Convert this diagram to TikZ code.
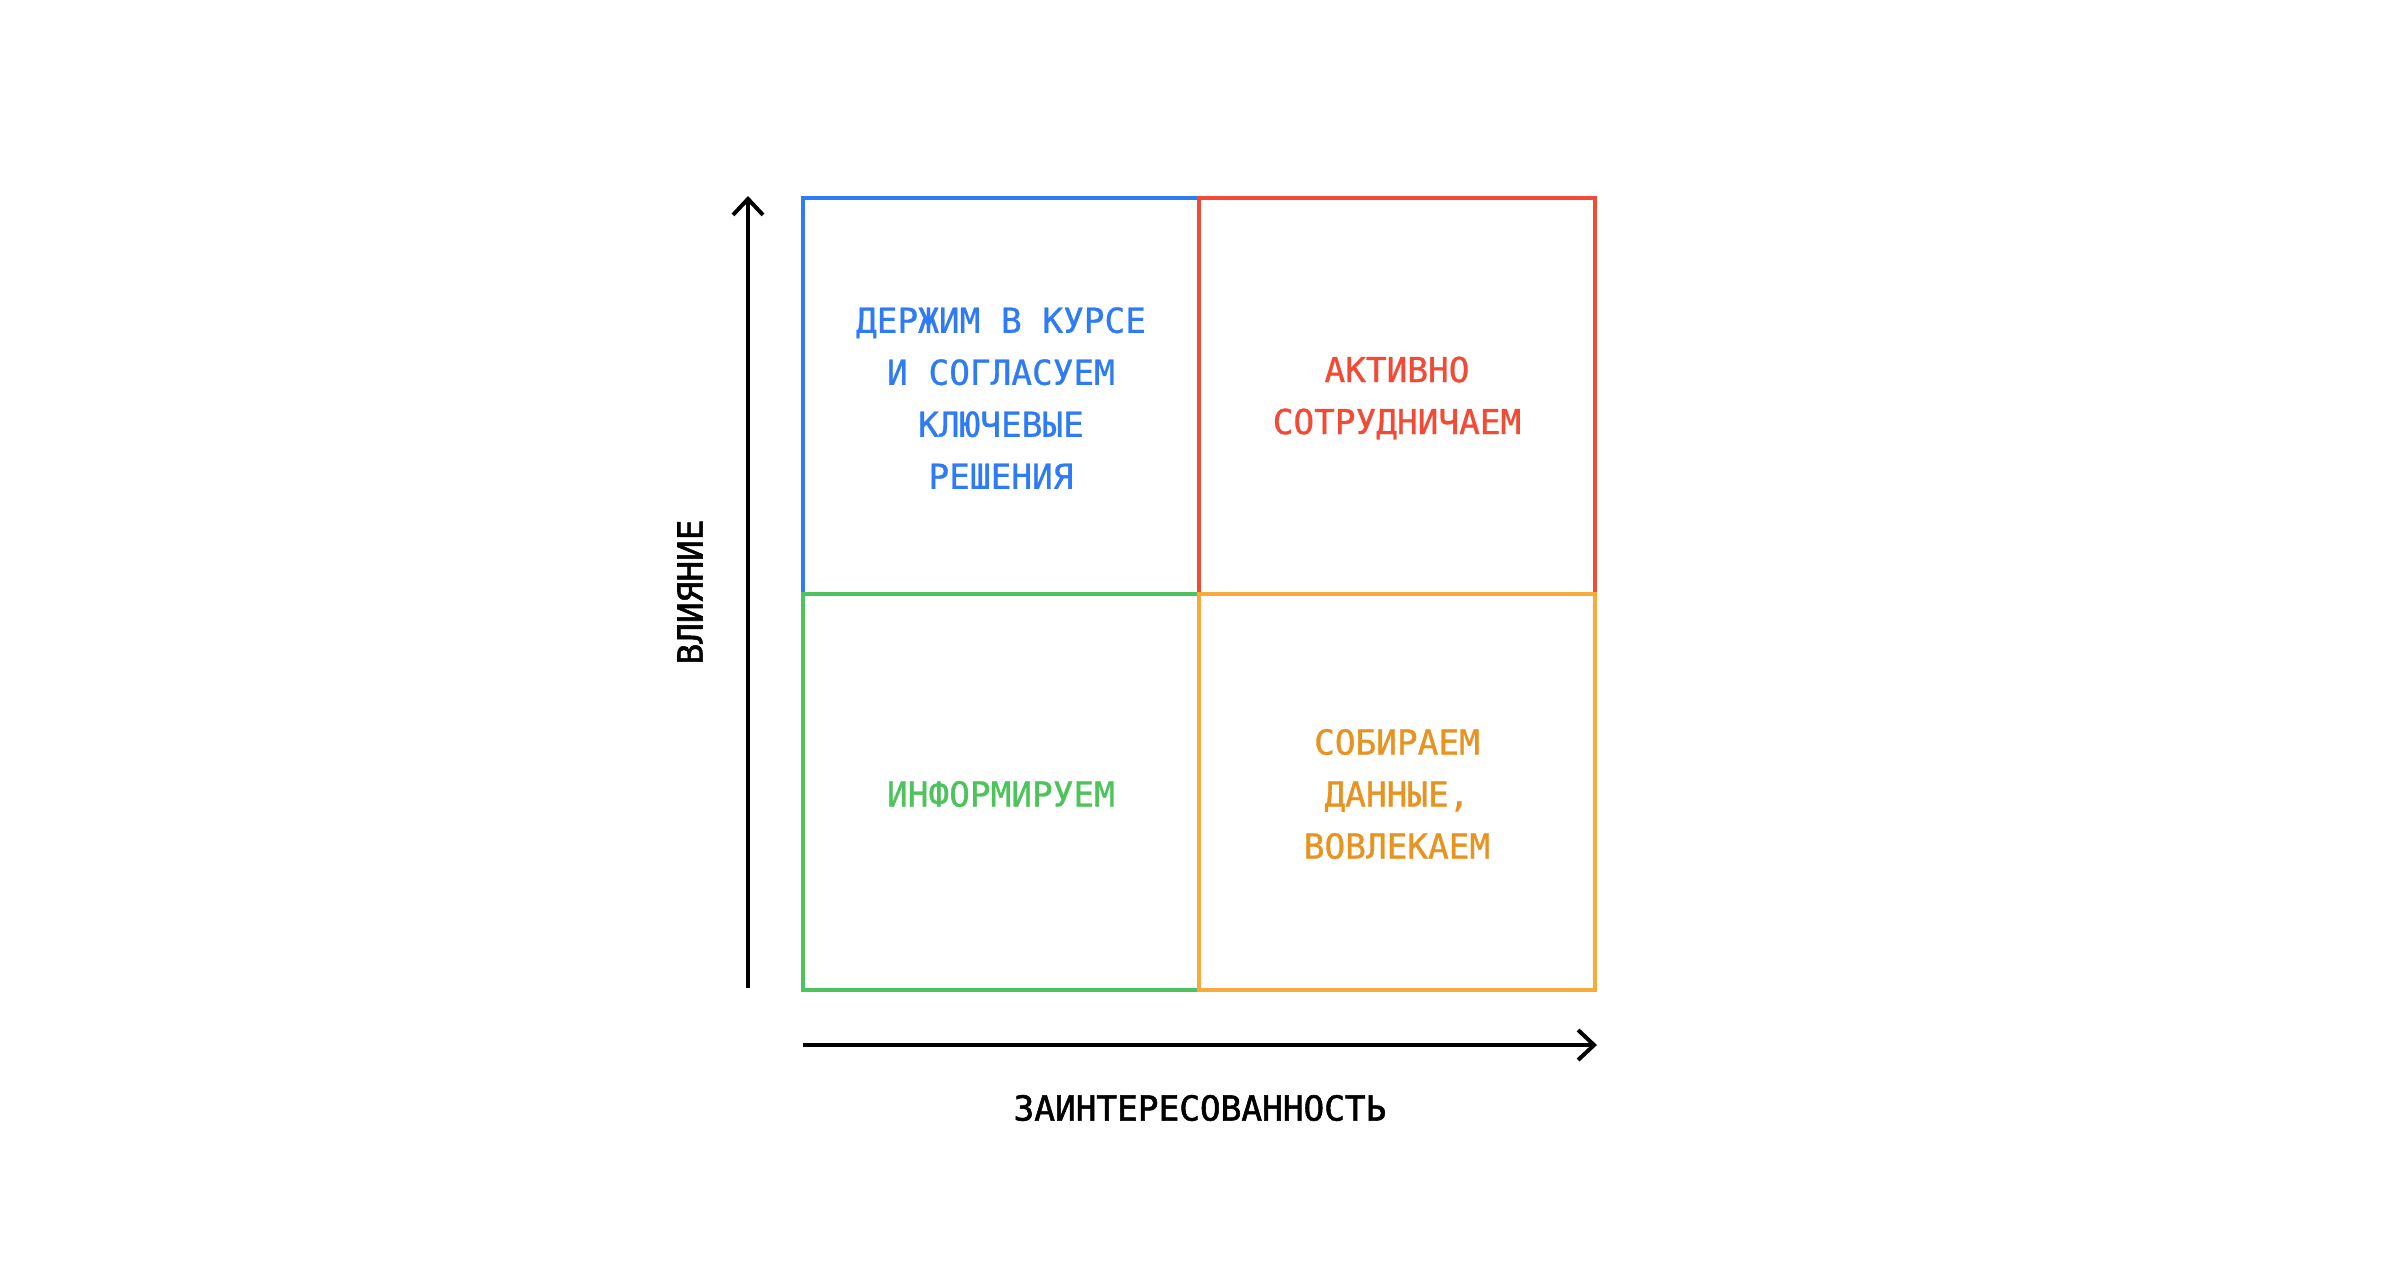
\documentclass[tikz,border=0pt]{standalone}
\usepackage{fontspec}
\newfontfamily\qfont[FakeBold=0.9]{DejaVu Sans Mono}
\newfontfamily\afont[FakeBold=1.6]{DejaVu Sans Mono}
\usetikzlibrary{arrows.meta}
\definecolor{cblue}{HTML}{2F7BF6}
\definecolor{cred}{HTML}{F24A35}
\definecolor{cgreen}{HTML}{4DC35B}
\definecolor{corange}{HTML}{F8AA3A}
\definecolor{corangetext}{HTML}{E8921F}
\tikzset{
  quad/.style={draw, line width=2pt, minimum width=198pt, minimum height=198pt, inner sep=0pt, anchor=center},
  qtext/.style={align=center, font=\qfont\fontsize{17.2pt}{26pt}\selectfont},
  axis/.style={line width=2pt, -{Straight Barb[length=8pt, width=15pt, line width=2pt]}},
  axislabel/.style={font=\afont\fontsize{17.2pt}{26pt}\selectfont, text=black, inner sep=0pt}
}
\begin{document}
\begin{tikzpicture}[x=0.5pt, y=-0.5pt]
\useasboundingbox[fill=white] (0,0) rectangle (2400,1260);
% quadrants (order matters for shared edges)
\node[quad, draw=cblue] (tl) at (1001,396) {};
\node[quad, draw=cred] (tr) at (1397,396) {};
\node[quad, draw=cgreen] (bl) at (1001,792) {};
\node[quad, draw=corange] (br) at (1397,792) {};
% texts
\node[qtext, text=cblue] (tltext) at ([yshift=-1pt]tl.center) {ДЕРЖИМ В КУРСЕ\\И СОГЛАСУЕМ\\КЛЮЧЕВЫЕ\\РЕШЕНИЯ};
\node[qtext, text=cred] (trtext) at ([yshift=-1pt]tr.center) {АКТИВНО\\СОТРУДНИЧАЕМ};
\node[qtext, text=cgreen] (bltext) at ([yshift=-1pt]bl.center) {ИНФОРМИРУЕМ};
\node[qtext, text=corangetext] (brtext) at ([yshift=-1pt]br.center) {СОБИРАЕМ\\ДАННЫЕ,\\ВОВЛЕКАЕМ};
% axes
\coordinate (ybot) at (748,988);
\coordinate (ytop) at (748,196);
\coordinate (xleft) at (803,1045);
\coordinate (xright) at (1597,1045);
\draw[axis] (ybot) -- (ytop);
\draw[axis] (xleft) -- (xright);
\node[axislabel] (xlabel) at (1200,1108) {ЗАИНТЕРЕСОВАННОСТЬ};
\node[axislabel, rotate=90] (ylabel) at (690,592) {ВЛИЯНИЕ};
\end{tikzpicture}
\end{document}
